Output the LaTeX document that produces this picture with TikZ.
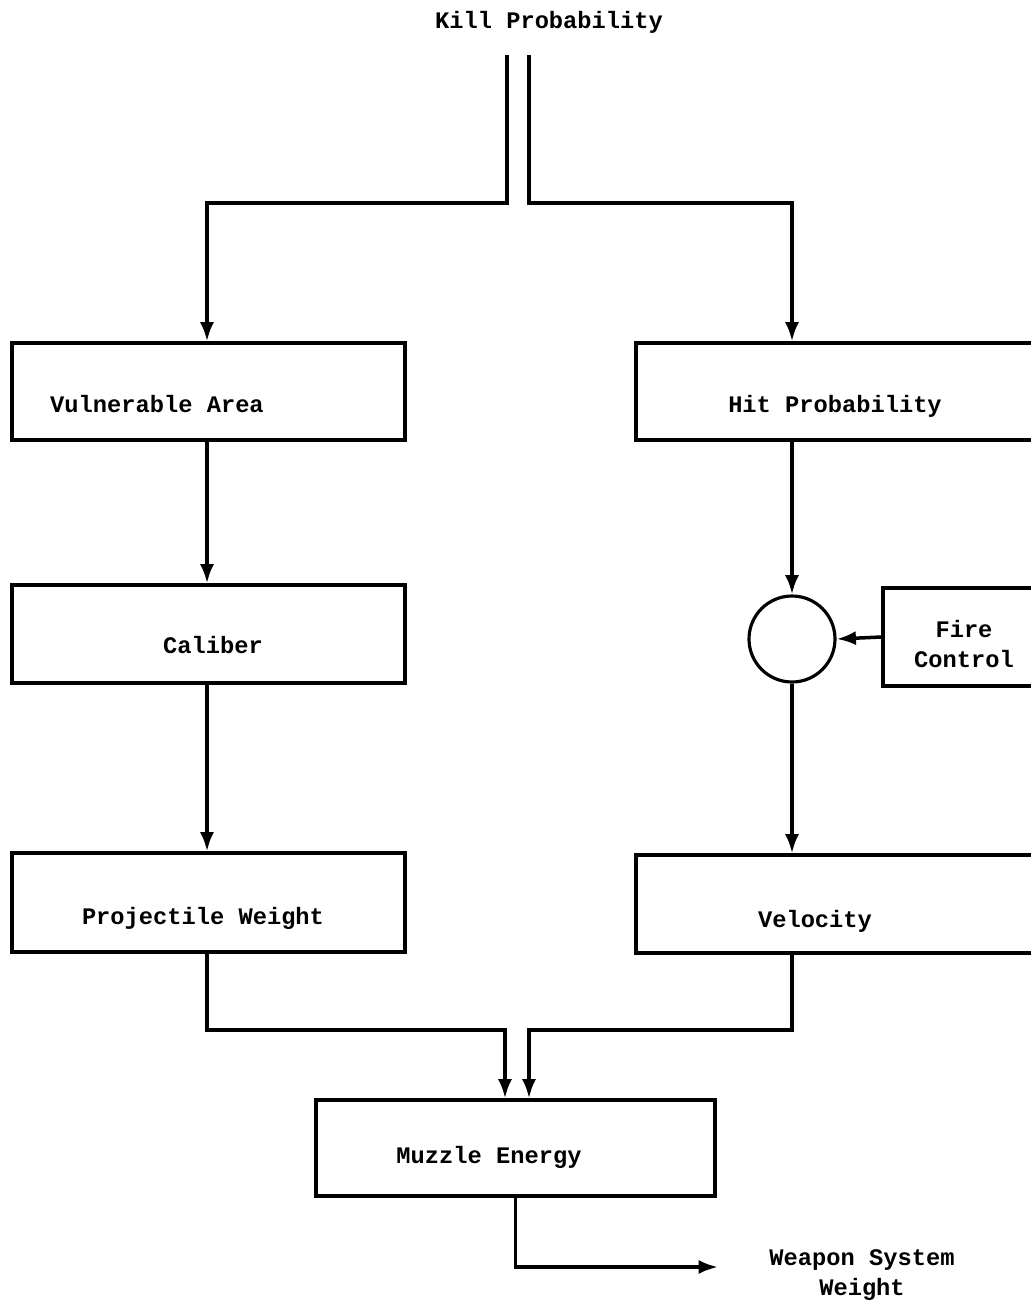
\documentclass[tikz,border=0pt]{standalone}
\usepackage{fontspec}
\setmonofont{Liberation Mono}
\usepackage{tikz}
\usetikzlibrary{arrows.meta, positioning, shapes, calc}

\begin{document}
\begin{tikzpicture}[x=0.02cm, y=-0.02cm,
    font=\ttfamily\bfseries\fontsize{13.5}{17}\selectfont,
    blk/.style={draw, line width=1.8pt, minimum width=#1, inner sep=0pt},
    arr/.style={line width=2pt, -{Latex[length=11pt,width=8pt]}}]
          \useasboundingbox (0,0) rectangle (1031,1309);
          \clip (0,0) rectangle (1031,1309);
          \node (kp) at (549,22) {Kill Probability};
          \coordinate (kl) at (507,55);
          \coordinate (kr) at (529,55);
          \coordinate (jl) at (207,203);
          \coordinate (jr) at (792,203);
          \node[blk=393*0.02cm, minimum height=97*0.02cm] (vul) at (208.5,391.5) {};
          \node[blk=393*0.02cm, minimum height=98*0.02cm] (cal) at (208.5,634) {};
          \node[blk=393*0.02cm, minimum height=99*0.02cm] (prw) at (208.5,902.5) {};
          \node[blk=424*0.02cm, minimum height=97*0.02cm] (hit) at (848,391.5) {};
          \node[draw, circle, line width=1.8pt, minimum size=86*0.02cm, inner sep=0pt] (mix) at (792,639) {};
          \node[blk=177*0.02cm, minimum height=98*0.02cm] (fire) at (971.5,637) {};
          \node[blk=424*0.02cm, minimum height=98*0.02cm] (vel) at (848,904) {};
          \node[blk=399*0.02cm, minimum height=96*0.02cm] (muz) at (515.5,1148) {};
          \node (tvul) at (157,404) {Vulnerable Area};
          \node (tcal) at (213,645) {Caliber};
          \node (tprw) at (203,918) {Projectile Weight};
          \node (thit) at (835,406) {Hit Probability};
          \node[align=center] (tfire) at (964,644) {Fire\\Control};
          \node (tvel) at (815,921) {Velocity};
          \node (tmuz) at (489,1157) {Muzzle Energy};
          \node[align=center] (wsw) at (862,1275) {Weapon System\\Weight};
          \coordinate (ml) at (505,1030);
          \coordinate (mr) at (529,1030);
          \coordinate (out) at (718,1267);
          \draw[arr] (kl) |- (jl) -- (vul.north -| jl);
          \draw[arr] (kr) |- (jr) -- (hit.north -| jr);
          \draw[arr] (vul.south -| jl) -- (cal.north -| jl);
          \draw[arr] (cal.south -| jl) -- (prw.north -| jl);
          \draw[arr] (hit.south -| jr) -- (mix.north);
          \draw[arr] (fire.west) -- (mix.east);
          \draw[arr] (mix.south) -- (vel.north -| mix);
          \draw[arr] (prw.south -| jl) |- (ml) -- (muz.north -| ml);
          \draw[arr] (vel.south -| jr) |- (mr) -- (muz.north -| mr);
          \draw[arr] (muz.south) |- (out);
        \end{tikzpicture}
\end{document}
